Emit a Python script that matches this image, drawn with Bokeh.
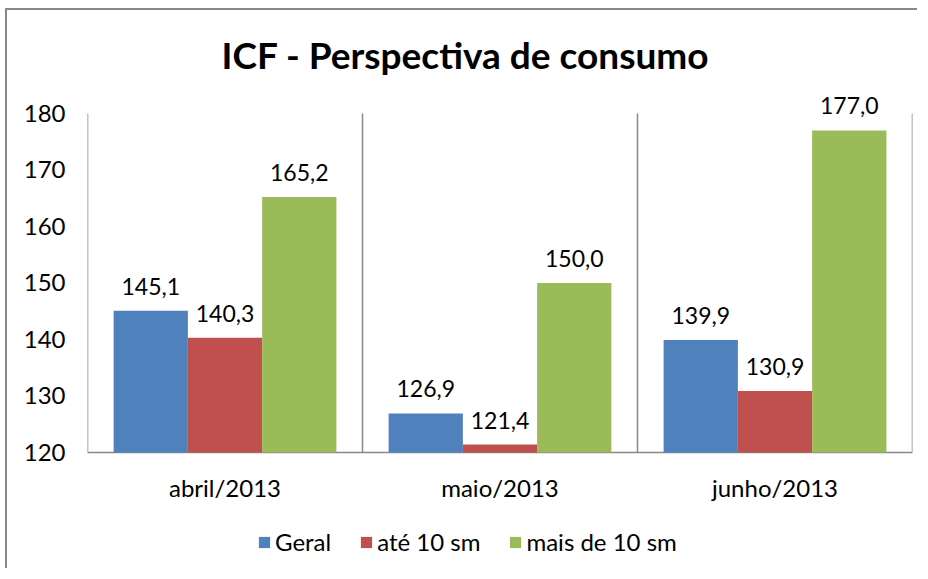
from bokeh.plotting import figure
from bokeh.models import (ColumnDataSource, FactorRange, Range1d, FixedTicker,
                          LabelSet, Title)
from bokeh.transform import dodge
from bokeh.core.properties import value
from bokeh.embed import file_html
from bokeh.resources import INLINE

categories = ["abril/2013", "maio/2013", "junho/2013"]
geral = [145.1, 126.9, 139.9]
ate10 = [140.3, 121.4, 130.9]
mais10 = [165.2, 150.0, 177.0]
series_names = ["Geral", "até 10 sm", "mais de 10 sm"]
colors = ["#4F81BD", "#C0504D", "#9BBB59"]
y_ticks = [120, 130, 140, 150, 160, 170, 180]
title_text = "ICF - Perspectiva de consumo"

FONT = "Lato"
AXIS_COL = "#888888"
Y_MIN, Y_MAX = y_ticks[0], y_ticks[-1]
Y_TOP = 184.42     # headroom above the top tick for value labels
Y_BOTTOM = 99.82   # room below the baseline for category labels and legend

def fmt(v):
    return f"{v:.1f}".replace(".", ",")

src = ColumnDataSource(dict(
    cat=categories,
    base=[Y_MIN] * len(categories),
    geral=geral, ate10=ate10, mais10=mais10,
    geral_l=[fmt(v) for v in geral],
    ate10_l=[fmt(v) for v in ate10],
    mais10_l=[fmt(v) for v in mais10],
))

p = figure(width=912, height=560, output_backend="svg", toolbar_location=None,
           x_range=FactorRange(factors=categories), y_range=Range1d(Y_BOTTOM, Y_TOP),
           x_axis_location=None,
           min_border_left=80, min_border_right=7, min_border_top=78, min_border_bottom=4,
           frame_width=825, frame_height=478,
           styles={"box-shadow": "-2px -2px 0px 0px #888888",
                   "margin-left": "7px", "margin-top": "10px"})
p.outline_line_color = None
p.xgrid.grid_line_color = None
p.ygrid.grid_line_color = None
p.background_fill_color = "white"
p.border_fill_color = "white"

# category separators (and left/right frame lines), from the bottom tick to the top tick
bounds = [(c, -0.5) for c in categories] + [(categories[-1], 0.5)]
p.segment(x0=bounds, x1=bounds, y0=[Y_MIN] * len(bounds), y1=[Y_MAX] * len(bounds),
          line_color=AXIS_COL, line_width=1.5)
# category axis baseline
p.segment(x0=[bounds[0]], x1=[bounds[-1]], y0=[Y_MIN], y1=[Y_MIN],
          line_color=AXIS_COL, line_width=1.5)

bw = 0.27
offsets = [-bw, 0.0, bw]
fields = ["geral", "ate10", "mais10"]
for f, off, col, name in zip(fields, offsets, colors, series_names):
    p.vbar(x=dodge("cat", off, range=p.x_range), top=f, bottom=Y_MIN, width=bw,
           source=src, fill_color=col, line_color=None, legend_label=name)
    labels = LabelSet(x=dodge("cat", off, range=p.x_range), y=f, text=f + "_l", source=src,
                      text_align="center", text_baseline="alphabetic", y_offset=16,
                      text_font=value(FONT), text_font_size="23px", text_color="black")
    p.add_layout(labels)

# category labels under the axis baseline
cat_labels = LabelSet(x="cat", y="base", text="cat", source=src,
                      text_align="center", text_baseline="alphabetic", y_offset=-45,
                      text_font=value(FONT), text_font_size="24px", text_color="black")
p.add_layout(cat_labels)

ax = p.yaxis[0]
ax.axis_line_color = None
ax.major_tick_line_color = None
ax.minor_tick_line_color = None
ax.major_label_text_font = FONT
ax.major_label_text_font_size = "24px"
ax.major_label_text_color = "black"
ax.ticker = FixedTicker(ticks=y_ticks)
ax.major_label_standoff = 16

p.title = Title(text=title_text, align="left", offset=134, standoff=24,
                text_font=FONT, text_font_size="37px", text_font_style="bold",
                text_color="black")

lg = p.legend[0]
lg.orientation = "horizontal"
lg.location = (170, 10)
lg.glyph_width = 14
lg.glyph_height = 14
lg.label_standoff = 4
lg.spacing = 28
lg.padding = 0
lg.margin = 0
lg.border_line_color = None
lg.background_fill_alpha = 0
lg.label_text_font = FONT
lg.label_text_font_size = "24px"
lg.label_text_color = "black"

open("out.html", "w").write(file_html(p, INLINE))
